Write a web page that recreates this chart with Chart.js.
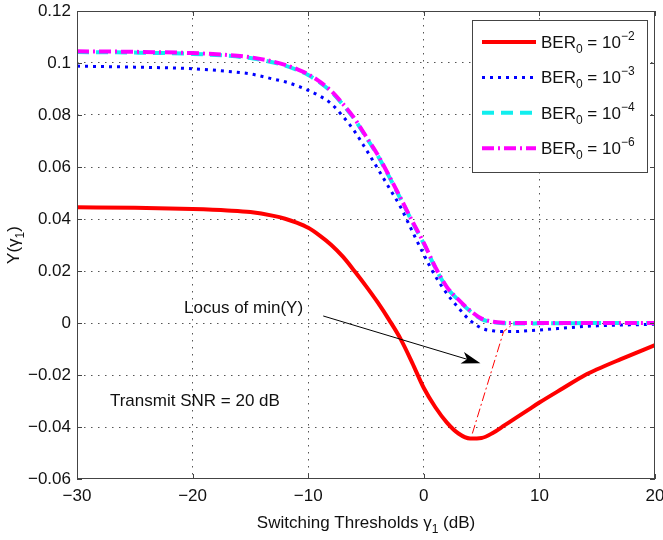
<!DOCTYPE html>
<html>
<head>
<meta charset="utf-8">
<script src="https://cdn.jsdelivr.net/npm/chart.js@4.4.0/dist/chart.umd.min.js"></script>
<style>
  html, body { margin: 0; padding: 0; background: #fff; }
</style>
</head>
<body>
<canvas id="chart-Y" width="663" height="540"></canvas>
<script>
// switching thresholds (dB)
var xValues = [-30, -25, -20, -17, -15, -13, -12, -11, -10, -9, -8, -7, -6, -5, -4, -3, -2, -1,
               0, 1, 2, 3, 4, 5, 6, 7, 8, 9, 10, 12, 14, 15, 17, 20];

var yBer2 = [0.0445, 0.0443, 0.0438, 0.0433, 0.0427, 0.0412, 0.0401, 0.0386, 0.0366, 0.0336, 0.0300, 0.0255,
             0.0200, 0.0142, 0.0080, 0.0012, -0.0062, -0.0153, -0.0250, -0.0324, -0.0383, -0.0425, -0.0444,
             -0.0442, -0.0422, -0.0393, -0.0364, -0.0335, -0.0306, -0.0252, -0.0199, -0.0178, -0.0140, -0.0085];

var yBer3 = [0.0988, 0.0984, 0.0978, 0.0968, 0.0958, 0.0938, 0.0928, 0.0913, 0.0895, 0.0873, 0.0843, 0.0795,
             0.0738, 0.0668, 0.0595, 0.0520, 0.0445, 0.0353, 0.0263, 0.0180, 0.0113, 0.0058, 0.0010,
             -0.0020, -0.0030, -0.0033, -0.0033, -0.0030, -0.0027, -0.0020, -0.0013, -0.0011, -0.0008, -0.0005];

var yBer4 = [0.1042, 0.1040, 0.1035, 0.1028, 0.1019, 0.1002, 0.0990, 0.0974, 0.0954, 0.0925, 0.0889, 0.0840,
             0.0784, 0.0715, 0.0645, 0.0563, 0.0477, 0.0389, 0.0305, 0.0212, 0.0136, 0.0088, 0.0046,
             0.0015, 0.0003, -0.0001, -0.0002, -0.0002, -0.0001, -0.0001, 0, 0, 0, 0];

var yBer6 = [0.1045, 0.1043, 0.1038, 0.1031, 0.1022, 0.1005, 0.0993, 0.0977, 0.0957, 0.0928, 0.0892, 0.0843,
             0.0787, 0.0718, 0.0648, 0.0566, 0.0480, 0.0392, 0.0308, 0.0215, 0.0138, 0.0090, 0.0048,
             0.0017, 0.0005, 0.0001, 0, 0, 0, 0, 0, 0, 0, 0];

// locus of the minima
var locusX = [4.2, 6.9, 7.9];
var locusY = [-0.0425, -0.0033, 0.0003];

var berExponents = ['-2', '-3', '-4', '-6'];

var xTicks = [-30, -20, -10, 0, 10, 20];
var yTicks = [-0.06, -0.04, -0.02, 0, 0.02, 0.04, 0.06, 0.08, 0.1, 0.12];

// annotations, in data coordinates
var noteTexts = ['Locus of min(Y)', 'Transmit SNR = 20 dB'];
var noteX = [-20.74, -27.15];
var noteY = [0.0038, -0.0319];
var arrowFrom = [-8.7, 0.0027];
var arrowTo = [4.9, -0.0155];

var FONT = '"Liberation Sans", Arial, sans-serif';

function pts(xs, ys) {
    return xs.map(function (x, i) { return { x: x, y: ys[i] }; });
}

function fmt(v) {
    return String(Math.round(v * 1000) / 1000).replace('-', '\u2212');
}

// draws "main" + subscript / superscript pieces, returns end x
function drawRich(ctx, parts, x, y) {
    parts.forEach(function (p) {
        ctx.font = (p.small ? '12px ' : '17px ') + FONT;
        ctx.fillText(p.t, x, y + (p.dy || 0));
        x += ctx.measureText(p.t).width;
    });
    return x;
}
function richWidth(ctx, parts) {
    var w = 0;
    parts.forEach(function (p) {
        ctx.font = (p.small ? '12px ' : '17px ') + FONT;
        w += ctx.measureText(p.t).width;
    });
    return w;
}

var extrasPlugin = {
    id: 'extras',
    afterDatasetsDraw: function (chart) {
        var ctx = chart.ctx, xs = chart.scales.x, ys = chart.scales.y;
        // arrow
        var x0 = xs.getPixelForValue(arrowFrom[0]), y0 = ys.getPixelForValue(arrowFrom[1]);
        var x1 = xs.getPixelForValue(arrowTo[0]), y1 = ys.getPixelForValue(arrowTo[1]);
        var len = Math.hypot(x1 - x0, y1 - y0), ux = (x1 - x0) / len, uy = (y1 - y0) / len;
        var nx = -uy, ny = ux, L = 19, W = 6, N = 5;
        ctx.save();
        ctx.strokeStyle = '#000';
        ctx.fillStyle = '#000';
        ctx.lineWidth = 1;
        ctx.beginPath();
        ctx.moveTo(x0, y0);
        ctx.lineTo(x1 - (L - N) * ux, y1 - (L - N) * uy);
        ctx.stroke();
        ctx.beginPath();
        ctx.moveTo(x1, y1);
        ctx.lineTo(x1 - L * ux + W * nx, y1 - L * uy + W * ny);
        ctx.lineTo(x1 - (L - N) * ux, y1 - (L - N) * uy);
        ctx.lineTo(x1 - L * ux - W * nx, y1 - L * uy - W * ny);
        ctx.closePath();
        ctx.fill();
        ctx.restore();
    },
    afterDraw: function (chart) {
        var ctx = chart.ctx, a = chart.chartArea, xs = chart.scales.x, ys = chart.scales.y;
        ctx.save();
        // box
        ctx.strokeStyle = '#444';
        ctx.lineWidth = 1;
        ctx.strokeRect(a.left + 0.5, a.top + 0.5, a.right - a.left - 1, a.bottom - a.top - 1);
        // inner ticks
        ctx.beginPath();
        xTicks.forEach(function (t) {
            var px = Math.round(xs.getPixelForValue(t)) + 0.5;
            ctx.moveTo(px, a.bottom); ctx.lineTo(px, a.bottom - 5);
            ctx.moveTo(px, a.top); ctx.lineTo(px, a.top + 5);
        });
        yTicks.forEach(function (t) {
            var py = Math.round(ys.getPixelForValue(t)) + 0.5;
            ctx.moveTo(a.left, py); ctx.lineTo(a.left + 5, py);
            ctx.moveTo(a.right, py); ctx.lineTo(a.right - 5, py);
        });
        ctx.stroke();

        // notes
        ctx.fillStyle = '#111';
        ctx.textBaseline = 'alphabetic';
        ctx.textAlign = 'left';
        ctx.font = '17px ' + FONT;
        noteTexts.forEach(function (t, i) {
            ctx.fillText(t, xs.getPixelForValue(noteX[i]), ys.getPixelForValue(noteY[i]));
        });

        // axis titles
        var xt = [{ t: 'Switching Thresholds \u03b3' }, { t: '1', small: true, dy: 5 }, { t: ' (dB)' }];
        var cx = (a.left + a.right) / 2;
        drawRich(ctx, xt, cx - richWidth(ctx, xt) / 2, 528);
        var yt = [{ t: 'Y(\u03b3' }, { t: '1', small: true, dy: 5 }, { t: ')' }];
        ctx.save();
        ctx.translate(19, (a.top + a.bottom) / 2);
        ctx.rotate(-Math.PI / 2);
        drawRich(ctx, yt, -richWidth(ctx, yt) / 2, 0);
        ctx.restore();

        // legend
        var bx = a.right - 183, by = a.top + 9, bw = 175, bh = 152;
        ctx.fillStyle = '#fff';
        ctx.fillRect(bx, by, bw, bh);
        ctx.strokeStyle = '#444';
        ctx.strokeRect(bx + 0.5, by + 0.5, bw, bh);
        chart.data.datasets.slice(0, 4).forEach(function (ds, i) {
            var cy = by + 22 + i * 35.4;
            ctx.save();
            ctx.strokeStyle = ds.borderColor;
            ctx.lineWidth = ds.borderWidth;
            ctx.setLineDash(ds.borderDash || []);
            ctx.beginPath();
            ctx.moveTo(bx + 10, cy);
            ctx.lineTo(bx + 64, cy);
            ctx.stroke();
            ctx.restore();
            ctx.fillStyle = '#111';
            drawRich(ctx, [
                { t: 'BER' }, { t: '0', small: true, dy: 5 }, { t: ' = 10' },
                { t: berExponents[i].replace('-', '\u2212'), small: true, dy: -8 }
            ], bx + 69, cy + 6);
        });
        ctx.restore();
    }
};

var ctxY = document.getElementById('chart-Y').getContext('2d');

var chartY = new Chart(ctxY, {
    type: 'line',
    data: {
        datasets: [
            { label: 'BER0 = 1e-2', data: pts(xValues, yBer2), borderColor: '#ff0000', borderWidth: 4, order: 3 },
            { label: 'BER0 = 1e-3', data: pts(xValues, yBer3), borderColor: '#0000ff', borderWidth: 3,
              borderDash: [3, 5], order: 2 },
            { label: 'BER0 = 1e-4', data: pts(xValues, yBer4), borderColor: '#11eeee', borderWidth: 4,
              borderDash: [12, 7], order: 1 },
            { label: 'BER0 = 1e-6', data: pts(xValues, yBer6), borderColor: '#ff00ff', borderWidth: 4,
              borderDash: [12, 4, 2, 4], order: 0 },
            { label: 'locus', data: pts(locusX, locusY), borderColor: '#ff0000', borderWidth: 1,
              borderDash: [9, 3, 2, 3], order: 4, cubicInterpolationMode: 'default', tension: 0 }
        ]
    },
    options: {
        responsive: false,
        animation: false,
        devicePixelRatio: 1,
        layout: { padding: { top: 11, right: 8, left: 0, bottom: 0 } },
        elements: {
            point: { radius: 0 },
            line: { fill: false, cubicInterpolationMode: 'monotone', borderCapStyle: 'butt' }
        },
        plugins: {
            legend: { display: false },
            tooltip: { enabled: false }
        },
        scales: {
            x: {
                type: 'linear',
                min: -30,
                max: 20,
                ticks: {
                    stepSize: 10,
                    padding: 7,
                    color: '#111',
                    font: { family: FONT, size: 17 },
                    maxRotation: 0,
                    callback: function (v) { return fmt(v); }
                },
                grid: {
                    drawTicks: false,
                    color: function (c) {
                        var v = c.tick ? c.tick.value : null;
                        return (v === -30 || v === 20) ? 'rgba(0,0,0,0)' : '#555';
                    }
                },
                border: { display: false, dash: [1.5, 5.5] },
                afterFit: function (s) { s.height = 61; s.paddingLeft = 0; s.paddingRight = 0; }
            },
            y: {
                type: 'linear',
                min: -0.06,
                max: 0.12,
                ticks: {
                    stepSize: 0.02,
                    padding: 6,
                    color: '#111',
                    font: { family: FONT, size: 17 },
                    callback: function (v) { return fmt(v); }
                },
                grid: {
                    drawTicks: false,
                    color: function (c) {
                        var v = c.tick ? c.tick.value : null;
                        return (v !== null && (Math.abs(v + 0.06) < 1e-6 || Math.abs(v - 0.12) < 1e-6)) ? 'rgba(0,0,0,0)' : '#555';
                    }
                },
                border: { display: false, dash: [1.5, 5.5] },
                afterFit: function (s) { s.width = 77; s.paddingTop = 0; s.paddingBottom = 0; }
            }
        }
    },
    plugins: [extrasPlugin]
});
</script>
</body>
</html>
